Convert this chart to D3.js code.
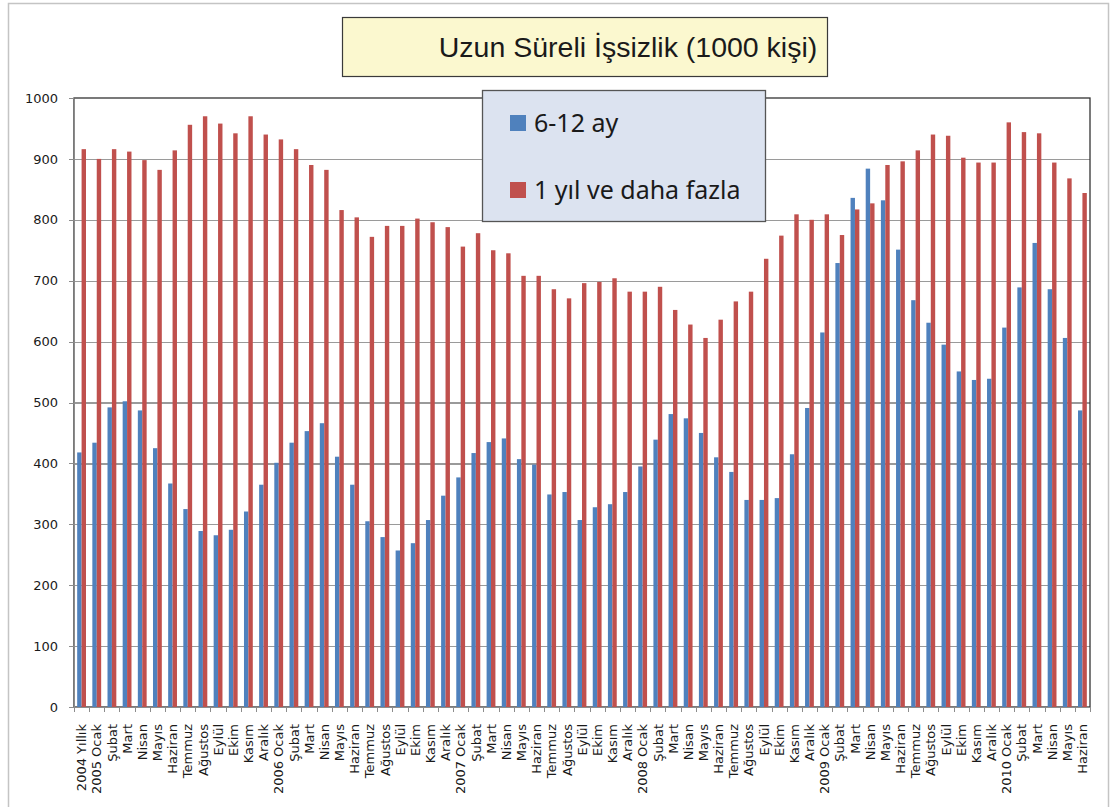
<!DOCTYPE html>
<html>
<meta charset="utf-8">
<style>
body {
  	margin: 0;
  	background: #fff;
  	font-family: "DejaVu Sans", sans-serif;
}
svg {
    	display: block;
}
.axis path {
  	fill: none;
  	stroke: #8c8c8c;
}
.axis line {
  	stroke: #8c8c8c;
  	shape-rendering: crispEdges;
}
.axis text {
  	font-family: "DejaVu Sans", sans-serif;
  	font-size: 13px;
  	fill: #1a1a1a;
}
.grid line {
  	stroke: #9a9a9a;
  	stroke-width: 1.2;
  	shape-rendering: crispEdges;
}
.grid path {
  	display: none;
}
.legend text {
  	font-family: "Noto Sans", sans-serif;
  	font-size: 25px;
  	fill: #1a1a1a;
}
</style>
<body>

<script src="https://d3js.org/d3.v7.min.js"></script>
<script>
// ay etiketleri (x ekseni)
var categories = [
	"2004 Yıllık",
	"2005 Ocak", "Şubat", "Mart", "Nisan", "Mayıs", "Haziran", "Temmuz", "Ağustos", "Eylül", "Ekim", "Kasım", "Aralık",
	"2006 Ocak", "Şubat", "Mart", "Nisan", "Mayıs", "Haziran", "Temmuz", "Ağustos", "Eylül", "Ekim", "Kasım", "Aralık",
	"2007 Ocak", "Şubat", "Mart", "Nisan", "Mayıs", "Haziran", "Temmuz", "Ağustos", "Eylül", "Ekim", "Kasım", "Aralık",
	"2008 Ocak", "Şubat", "Mart", "Nisan", "Mayıs", "Haziran", "Temmuz", "Ağustos", "Eylül", "Ekim", "Kasım", "Aralık",
	"2009 Ocak", "Şubat", "Mart", "Nisan", "Mayıs", "Haziran", "Temmuz", "Ağustos", "Eylül", "Ekim", "Kasım", "Aralık",
	"2010 Ocak", "Şubat", "Mart", "Nisan", "Mayıs", "Haziran"
];
// 6-12 ay
var sixToTwelve = [
	418,
	434, 492, 502, 487, 425, 367, 325, 289, 282, 291, 321, 365,
	401, 434, 453, 466, 411, 365, 305, 279, 257, 269, 307, 347,
	377, 417, 435, 441, 407, 398, 349, 353, 307, 328, 333, 353,
	395, 439, 481, 474, 450, 410, 386, 340, 340, 343, 415, 491,
	615, 729, 836, 884, 832, 751, 668, 631, 595, 551, 537, 539,
	623, 689, 762, 686, 606, 487
];
// 1 yıl ve daha fazla
var oneYearPlus = [
	916,
	900, 916, 912, 898, 882, 914, 956, 970, 958, 942, 970, 940,
	932, 916, 890, 882, 816, 804, 772, 790, 790, 802, 796, 788,
	756, 778, 750, 745, 708, 708, 686, 671, 696, 698, 704, 682,
	682, 690, 652, 628, 606, 636, 666, 682, 736, 774, 809, 800,
	809, 775, 817, 827, 890, 896, 914, 940, 938, 902, 894, 894,
	960, 944, 942, 894, 868, 844
];
var seriesNames = ["6-12 ay", "1 yıl ve daha fazla"];
var seriesColors = ["#4f81bd", "#c0504d"];
var yTicks = [0, 100, 200, 300, 400, 500, 600, 700, 800, 900, 1000];

var 	W = 1112, H = 807,
	plot = {left: 74, right: 1090, top: 98, bottom: 707};

var 	svg = d3.select("body").append("svg")
	.attr("width", W)
	.attr("height", H);

// dış çerçeve
svg.append("rect")
	.attr("x", 8.5).attr("y", 3.5)
	.attr("width", 1100).attr("height", 820)
	.attr("fill", "#fff")
	.attr("stroke", "#c4c4c4")
	.attr("stroke-width", 1.5);

var 	rows = categories.map(function(c, i) {
		return {idx: i, label: c, values: [sixToTwelve[i], oneYearPlus[i]]};
	});

var 	x0 = d3.scaleBand()
	.domain(d3.range(categories.length))
	.range([plot.left, plot.right])
	.padding(0);
var 	x1 = d3.scaleBand()
	.domain([0, 1])
	.range([0, x0.bandwidth()])
	.paddingInner(0)
	.paddingOuter(0.72);
var 	y = d3.scaleLinear()
	.domain([0, 1000])
	.range([plot.bottom, plot.top]);

// yatay ızgara
svg.append("g")
	.attr("class", "grid")
	.attr("transform", "translate(" + plot.left + ",0)")
	.call(d3.axisLeft(y).tickValues(yTicks.slice(1, -1)).tickSize(-(plot.right - plot.left)).tickFormat(""));

// çizim alanı çerçevesi
svg.append("rect")
	.attr("x", plot.left).attr("y", plot.top)
	.attr("width", plot.right - plot.left)
	.attr("height", plot.bottom - plot.top)
	.attr("fill", "none")
	.attr("stroke", "#333")
	.attr("stroke-width", 1.3);

// çubuklar
var 	bar = svg.selectAll(".cat")
	.data(rows)
	.enter().append("g")
	.attr("class", "cat")
	.attr("transform", function(d) { return "translate(" + x0(d.idx) + ",0)"; });
bar.selectAll("rect")
	.data(function(d) { return d.values.map(function(v, k) { return {k: k, value: v}; }); })
	.enter().append("rect")
	.attr("x", function(d) { return x1(d.k); })
	.attr("width", x1.bandwidth())
	.attr("y", function(d) { return y(d.value); })
	.attr("height", function(d) { return y(0) - y(d.value); })
	.style("fill", function(d) { return seriesColors[d.k]; });

// y ekseni
svg.append("g")
	.attr("class", "axis")
	.attr("transform", "translate(" + plot.left + ",0)")
	.call(d3.axisLeft(y).tickValues(yTicks).tickSize(5).tickSizeOuter(0).tickPadding(11).tickFormat(d3.format("d")));

// x ekseni
var 	xAxisG = svg.append("g")
	.attr("class", "axis")
	.attr("transform", "translate(0," + plot.bottom + ")")
	.call(d3.axisBottom(x0).tickSize(0).tickSizeOuter(0).tickFormat(function(i) { return categories[i]; }));
xAxisG.selectAll("text")
	.attr("y", 0)
	.attr("x", -17)
	.attr("dy", "0.36em")
	.attr("transform", "rotate(-90)")
	.style("text-anchor", "end");
xAxisG.selectAll(".sep")
	.data(d3.range(categories.length + 1))
	.enter().append("line")
	.attr("class", "sep")
	.attr("x1", function(i) { return Math.round(plot.left + i * x0.step()) + 0.5; })
	.attr("x2", function(i) { return Math.round(plot.left + i * x0.step()) + 0.5; })
	.attr("y1", 0)
	.attr("y2", 5);

// başlık kutusu
svg.append("rect")
	.attr("x", 342.5).attr("y", 17.5)
	.attr("width", 485).attr("height", 59)
	.attr("fill", "#fbf8cf")
	.attr("stroke", "#3a3a3a")
	.attr("stroke-width", 1.2);
svg.append("text")
	.attr("x", 628)
	.attr("y", 57)
	.attr("text-anchor", "middle")
	.attr("font-family", "'Liberation Sans', Arial, sans-serif")
	.attr("font-size", "28.5px")
	.attr("fill", "#1a1a1a")
	.text("Uzun Süreli İşsizlik (1000 kişi)");

// lejant
var 	legendG = svg.append("g").attr("class", "legend");
legendG.append("rect")
	.attr("x", 482.5).attr("y", 90.5)
	.attr("width", 283).attr("height", 131)
	.attr("fill", "#dce3f0")
	.attr("stroke", "#555")
	.attr("stroke-width", 1.3);
var 	legendItem = legendG.selectAll(".item")
	.data(seriesNames)
	.enter().append("g")
	.attr("class", "item")
	.attr("transform", function(d, i) { return "translate(510," + (115 + i * 67) + ")"; });
legendItem.append("rect")
	.attr("width", 16)
	.attr("height", 16)
	.style("fill", function(d, i) { return seriesColors[i]; });
legendItem.append("text")
	.attr("x", 24)
	.attr("y", 17)
	.text(function(d) { return d; });
</script>
</body>
</html>
